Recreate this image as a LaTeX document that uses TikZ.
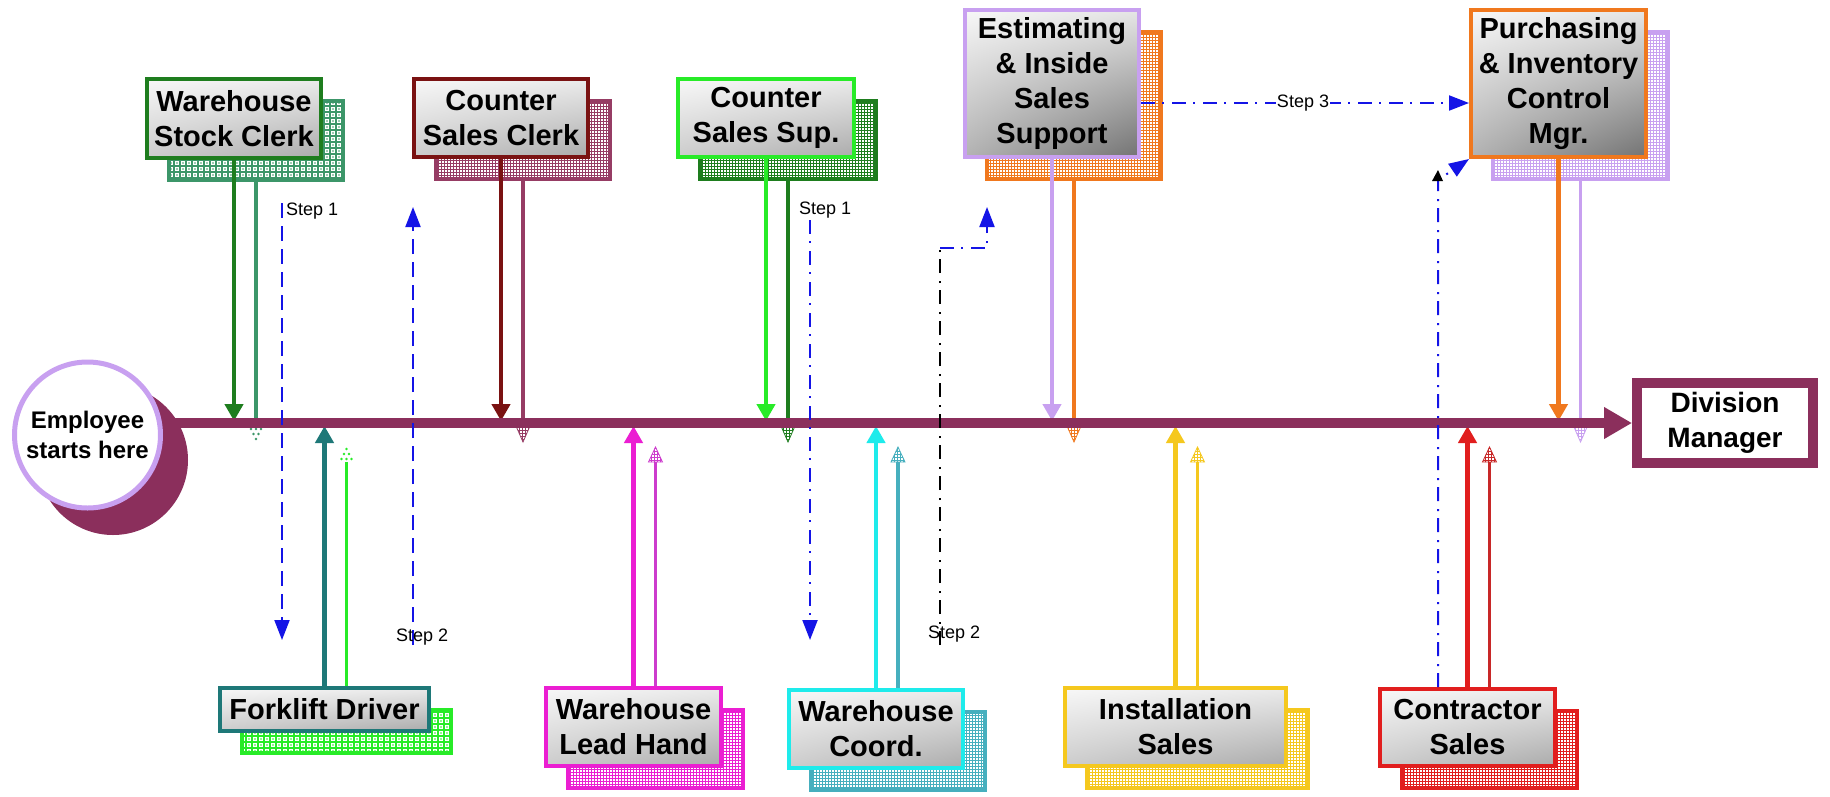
\documentclass[tikz,border=0pt]{standalone}
\usepackage{fontspec}
\setmainfont{Liberation Sans}
\usetikzlibrary{arrows.meta,patterns,shadings}

\pgfdeclarelayer{back}
\pgfdeclarelayer{mid}
\pgfdeclarelayer{spinelayer}
\pgfdeclarelayer{top}
\pgfsetlayers{back,mid,spinelayer,main,top}

% fine square mesh used for the box shadows
\pgfdeclarepatternformonly{finemesh}{\pgfqpoint{-1pt}{-1pt}}{\pgfqpoint{4pt}{4pt}}{\pgfqpoint{3pt}{3pt}}{%
  \pgfsetlinewidth{0.9pt}%
  \pgfpathmoveto{\pgfqpoint{-0.5pt}{0pt}}\pgfpathlineto{\pgfqpoint{3.5pt}{0pt}}%
  \pgfpathmoveto{\pgfqpoint{0pt}{-0.5pt}}\pgfpathlineto{\pgfqpoint{0pt}{3.5pt}}%
  \pgfusepath{stroke}}
% coarser lattice with a dot in every cell
\pgfdeclarepatternformonly{dotlattice}{\pgfqpoint{-1pt}{-1pt}}{\pgfqpoint{7pt}{7pt}}{\pgfqpoint{6pt}{6pt}}{%
  \pgfsetlinewidth{1.3pt}%
  \pgfpathmoveto{\pgfqpoint{-0.5pt}{0pt}}\pgfpathlineto{\pgfqpoint{6.5pt}{0pt}}%
  \pgfpathmoveto{\pgfqpoint{0pt}{-0.5pt}}\pgfpathlineto{\pgfqpoint{0pt}{6.5pt}}%
  \pgfusepath{stroke}%
  \pgfpathcircle{\pgfqpoint{3pt}{3pt}}{0.9pt}%
  \pgfusepath{fill}}

\definecolor{spinec}{RGB}{139,47,92}
\definecolor{lav}{RGB}{200,160,240}
\definecolor{dkgreen}{RGB}{30,125,30}
\definecolor{seagreen}{RGB}{60,150,105}
\definecolor{dkred}{RGB}{122,18,18}
\definecolor{mauve}{RGB}{150,60,100}
\definecolor{ltgreen}{RGB}{40,235,40}
\definecolor{tealc}{RGB}{30,120,120}
\definecolor{magc}{RGB}{235,30,210}
\definecolor{violc}{RGB}{205,60,205}
\definecolor{cyanc}{RGB}{30,235,235}
\definecolor{cyandk}{RGB}{70,175,190}
\definecolor{orangec}{RGB}{240,120,30}
\definecolor{goldc}{RGB}{245,200,30}
\definecolor{redc}{RGB}{225,30,30}
\definecolor{reddk}{RGB}{200,40,40}
\definecolor{bluec}{RGB}{20,20,230}

\tikzset{
  front/.style={rectangle, draw=#1, line width=4pt, inner sep=0pt, align=center,
    font=\bfseries\fontsize{29}{35}\selectfont, shade,
    upper left=black!3, upper right=black!8, lower left=black!20, lower right=black!33,
    shading=bilinear interpolation},
  tall/.style={upper left=black!3, upper right=black!10, lower left=black!30, lower right=black!55,
    shading=bilinear interpolation},
  meshbox/.style={rectangle, draw=#1, line width=4pt, inner sep=0pt, fill=white,
    pattern=finemesh, pattern color=#1},
  dotbox/.style={rectangle, draw=#1, line width=4pt, inner sep=0pt, fill=white,
    pattern=dotlattice, pattern color=#1},
  prim/.style={draw=#1, line width=4.5pt, -{Triangle[length=17pt,width=18pt]}},
  sec/.style={draw=#1, line width=3.2pt},
  stepdash/.style={draw=bluec, line width=2pt, dash pattern=on 15pt off 8pt},
  stepdot/.style={draw=#1, line width=2pt, dash pattern=on 14pt off 7pt on 2pt off 8pt},
  steptip/.style={-{Triangle[length=20pt,width=15pt]}},
  steplabel/.style={font=\fontsize{18}{20}\selectfont, inner sep=1pt},
  meshdown/.pic={\draw[line width=0.8pt, draw=#1, fill=white, pattern=finemesh, pattern color=#1]
    (-7,0) -- (7,0) -- (0,16) -- cycle;},
  meshup/.pic={\draw[line width=0.8pt, draw=#1, fill=white, pattern=finemesh, pattern color=#1]
    (-7,0) -- (7,0) -- (0,-15) -- cycle;},
  dotdown/.pic={\foreach \p in {(-5,3),(0,3),(5,3),(-2.5,8),(2.5,8),(0,13)} \fill[#1] \p circle (1.4pt);},
  dotup/.pic={\foreach \p in {(-5,-3),(0,-3),(5,-3),(-2.5,-8),(2.5,-8),(0,-13)} \fill[#1] \p circle (1.4pt);},
}

\begin{document}
\begin{tikzpicture}[x=1pt, y=-1pt]
\useasboundingbox (0,0) rectangle (1830,796);

% ---------- front boxes ----------
\node[front=dkgreen, minimum width=174pt, minimum height=79pt] (wsc) at (234,118.5) {Warehouse\\Stock Clerk};
\node[front=dkred, minimum width=174pt, minimum height=78pt] (csc) at (501,118) {Counter\\Sales Clerk};
\node[front=ltgreen, minimum width=176pt, minimum height=78pt] (css) at (766,118) {Counter\\Sales Sup.};
\node[front=lav, tall, minimum width=174pt, minimum height=147pt] (est) at (1052,83.5) {Estimating\\\& Inside\\Sales\\Support};
\node[front=orangec, tall, minimum width=175pt, minimum height=147pt] (pim) at (1558.5,83.5) {Purchasing\\\& Inventory\\Control\\Mgr.};

\node[front=tealc, minimum width=209pt, minimum height=43pt] (fld) at (324.5,709.5) {Forklift Driver};
\node[front=magc, minimum width=175pt, minimum height=78pt] (wlh) at (633.5,727) {Warehouse\\Lead Hand};
\node[front=cyanc, minimum width=174pt, minimum height=78pt] (wco) at (876,729) {Warehouse\\Coord.};
\node[front=goldc, minimum width=221pt, minimum height=78pt] (ins) at (1175.5,727) {Installation\\Sales};
\node[front=redc, minimum width=175pt, minimum height=77pt] (con) at (1467.5,727.5) {Contractor\\Sales};

% start and end of the spine
\node[circle, draw=lav, line width=5pt, fill=white, minimum size=146pt, inner sep=0pt, align=center,
      font=\bfseries\fontsize{24}{30}\selectfont] (start) at (87.5,435) {Employee\\starts here};
\node[rectangle, draw=spinec, line width=10pt, fill=white, minimum width=176pt, minimum height=80pt,
      inner sep=0pt, align=center, font=\bfseries\fontsize{28}{35}\selectfont] (dm) at (1725,423) {Division\\Manager};

% reference heights on the spine
\coordinate (sp-top) at (0,421);
\coordinate (sp-mid) at (0,423);
\coordinate (sp-bot) at (0,426);
\coordinate (hd-up) at (0,462);

% ---------- shadows ----------
\begin{pgfonlayer}{back}
  \fill[white] (0,0) rectangle (1830,796);
  \fill[spinec] (113,460) circle (75pt);
  \node[dotbox=seagreen, minimum width=174pt, minimum height=79pt] (wscS) at (256,140.5) {};
  \node[meshbox=mauve, minimum width=174pt, minimum height=78pt] (cscS) at (523,140) {};
  \node[meshbox=dkgreen, minimum width=176pt, minimum height=78pt] (cssS) at (788,140) {};
  \node[meshbox=orangec, minimum width=174pt, minimum height=147pt] (estS) at (1074,105.5) {};
  \node[meshbox=lav, minimum width=175pt, minimum height=147pt] (pimS) at (1580.5,105.5) {};
  \node[dotbox=ltgreen, minimum width=209pt, minimum height=43pt] (fldS) at (346.5,731.5) {};
  \node[meshbox=magc, minimum width=175pt, minimum height=78pt] (wlhS) at (655.5,749) {};
  \node[meshbox=cyandk, minimum width=174pt, minimum height=78pt] (wcoS) at (898,751) {};
  \node[meshbox=goldc, minimum width=221pt, minimum height=78pt] (insS) at (1197.5,749) {};
  \node[meshbox=redc, minimum width=175pt, minimum height=77pt] (conS) at (1489.5,749.5) {};
\end{pgfonlayer}

% ---------- connectors to the spine ----------
\begin{pgfonlayer}{mid}
  % from the upper row
  \draw[prim=dkgreen] (wsc.south) -- (wsc.south |- sp-top);
  \draw[sec=seagreen] (wscS.south) -- (wscS.south |- sp-mid);
  \pic at (wscS.south |- sp-bot) {dotdown=seagreen};
  \draw[prim=dkred] (csc.south) -- (csc.south |- sp-top);
  \draw[sec=mauve] (cscS.south) -- (cscS.south |- sp-mid);
  \pic at (cscS.south |- sp-bot) {meshdown=mauve};
  \draw[prim=ltgreen] (css.south) -- (css.south |- sp-top);
  \draw[sec=dkgreen] (cssS.south) -- (cssS.south |- sp-mid);
  \pic at (cssS.south |- sp-bot) {meshdown=dkgreen};
  \draw[prim=lav] (est.south) -- (est.south |- sp-top);
  \draw[sec=orangec] (estS.south) -- (estS.south |- sp-mid);
  \pic at (estS.south |- sp-bot) {meshdown=orangec};
  \draw[prim=orangec] (pim.south) -- (pim.south |- sp-top);
  \draw[sec=lav] (pimS.south) -- (pimS.south |- sp-mid);
  \pic at (pimS.south |- sp-bot) {meshdown=lav};
  % from the lower row
  \draw[prim=tealc] (fld.north) -- (fld.north |- sp-bot);
  \draw[sec=ltgreen] (fldS.north) -- (fldS.north |- hd-up);
  \pic at (fldS.north |- hd-up) {dotup=ltgreen};
  \draw[prim=magc] (wlh.north) -- (wlh.north |- sp-bot);
  \draw[sec=violc] (wlhS.north) -- (wlhS.north |- hd-up);
  \pic at (wlhS.north |- hd-up) {meshup=violc};
  \draw[prim=cyanc] (wco.north) -- (wco.north |- sp-bot);
  \draw[sec=cyandk] (wcoS.north) -- (wcoS.north |- hd-up);
  \pic at (wcoS.north |- hd-up) {meshup=cyandk};
  \draw[prim=goldc] (ins.north) -- (ins.north |- sp-bot);
  \draw[sec=goldc] (insS.north) -- (insS.north |- hd-up);
  \pic at (insS.north |- hd-up) {meshup=goldc};
  \draw[prim=redc] (con.north) -- (con.north |- sp-bot);
  \draw[sec=reddk] (conS.north) -- (conS.north |- hd-up);
  \pic at (conS.north |- hd-up) {meshup=reddk};
\end{pgfonlayer}

% ---------- spine ----------
\begin{pgfonlayer}{spinelayer}
  \draw[spinec, line width=10pt, -{Triangle[length=28pt,width=30pt]}] (start.east |- dm.west) -- (dm.west);
\end{pgfonlayer}

% ---------- step routes ----------
\begin{pgfonlayer}{top}
  \coordinate (s1a-a) at (282,203);
  \coordinate (s1a-b) at (282,640);
  \draw[stepdash, steptip] (s1a-a) -- (s1a-b);
  \node[steplabel, anchor=west] (s1a) at (285,211) {Step 1};

  \coordinate (s2a-a) at (413,645);
  \coordinate (s2a-b) at (413,207);
  \draw[stepdash, steptip] (s2a-a) -- (s2a-b);
  \node[steplabel, anchor=west] (s2a) at (395,637) {Step 2};

  \coordinate (s1b-a) at (810,220);
  \coordinate (s1b-b) at (810,640);
  \draw[stepdot=bluec, steptip] (s1b-a) -- (s1b-b);
  \node[steplabel, anchor=west] (s1b) at (798,210) {Step 1};

  \coordinate (s2b-a) at (940,645);
  \coordinate (s2b-k) at (940,248);
  \coordinate (s2b-j) at (987,248);
  \coordinate (s2b-b) at (987,207);
  \draw[stepdot=black, line width=1.8pt] (s2b-a) -- (s2b-k);
  \draw[stepdot=bluec, steptip] (s2b-k) -- (s2b-j) -- (s2b-b);
  \node[steplabel, anchor=west] (s2b) at (927,634) {Step 2};

  \coordinate (s3y) at (0,103);
  \draw[stepdot=bluec, steptip] (est.east |- s3y) -- (pim.west |- s3y);
  \node[steplabel, fill=white] (s3) at (1303,103) {Step 3};

  \coordinate (cbend) at (1438,180);
  \draw[stepdot=bluec, steptip] (con.north -| cbend) -- (cbend) -- (pim.south west);
  \fill[black] (1438,170) -- (1443,181) -- (1432,181) -- cycle;
\end{pgfonlayer}
\end{tikzpicture}
\end{document}
